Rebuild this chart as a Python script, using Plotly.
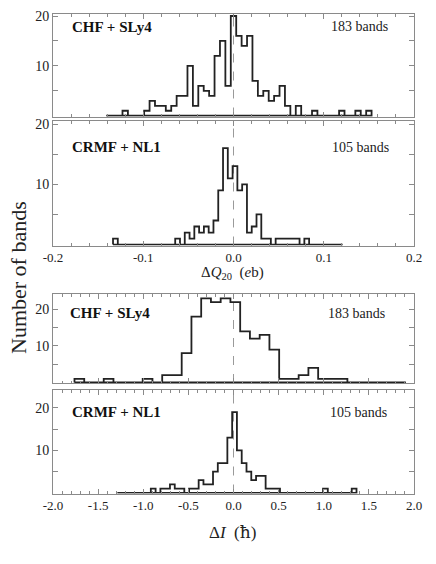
import plotly.graph_objects as go

# ---------------- data (histogram counts) ----------------
# Panel 1: Delta Q20, CHF + SLy4 (183 bands)
dq_chf_lo = -0.141
dq_chf_width = 0.006
dq_chf_counts = [0, 0, 0, 1, 0, 0, 0, 1, 3, 2, 2, 1, 2, 4, 4, 10, 2, 6, 5, 4, 12, 15, 6,
                 20, 16, 14, 16, 7, 4, 5, 3, 4, 6, 2, 0, 2, 0, 0, 1, 0, 0, 0, 0, 1, 0, 0, 1, 0, 1]

# Panel 2: Delta Q20, CRMF + NL1 (105 bands)
dq_rmf_lo = -0.1335
dq_rmf_width = 0.0053
dq_rmf_counts = [1] + [0] * 12 + [1, 0, 2, 1, 3, 2, 3, 2, 4, 9, 16, 11, 13, 9, 10, 2, 3, 5, 1, 1, 0,
                 1, 1, 1, 1, 1, 0, 1] + [0] * 7

# Panel 3: Delta I, CHF + SLy4 (183 bands)
di_chf_lo = -1.762
di_chf_width = 0.108
di_chf_counts = [1, 0, 0, 1, 0, 0, 0, 1, 0, 2, 2, 8, 18, 23, 22, 23, 22, 14, 12, 13, 9, 1, 1, 2, 4,
                 1, 1, 1, 0, 0, 0, 0, 0, 0]

# Panel 4: Delta I, CRMF + NL1 (105 bands)
di_rmf_lo = -1.287
di_rmf_width = 0.053
di_rmf_counts = [0] * 7 + [1, 0, 1, 1, 2, 1, 1, 0, 1, 1, 3, 2, 2, 5, 7, 7, 13, 19, 10, 7, 5, 3, 4, 4,
                 1, 1, 1] + [0] * 9 + [1] + [0] * 5 + [1]

labels_left = ["CHF + SLy4", "CRMF + NL1", "CHF + SLy4", "CRMF + NL1"]
labels_right = ["183 bands", "105 bands", "183 bands", "105 bands"]

dq_ticks = [-0.2, -0.1, 0.0, 0.1, 0.2]
dq_ticktext = ["-0.2", "-0.1", "0.0", "0.1", "0.2"]
di_ticks = [-2.0, -1.5, -1.0, -0.5, 0.0, 0.5, 1.0, 1.5, 2.0]
di_ticktext = ["-2.0", "-1.5", "-1.0", "-0.5", "0.0", "0.5", "1.0", "1.5", "2.0"]
y_ticks = [10, 20]
y_ticktext = ["10", "20"]
y_minor_ticks = [5, 15]

# ---------------- layout geometry ----------------
W, H = 436, 564
FONT = "Liberation Serif"
LINE = "#222222"
AX = "#8a8a8a"


def fx(p):
    return p / W


def fy(p):
    return 1 - p / H


x_dom = [fx(53), fx(414)]
panels = [
    dict(top=14, bot=116.5, yr=[-0.15, 20.4], xr=[-0.2, 0.2], lo=dq_chf_lo, w=dq_chf_width,
         c=dq_chf_counts, xt=dq_ticks, xtt=dq_ticktext, lab=False, minor=0.02),
    dict(top=121, bot=245.5, yr=[-0.15, 20.5], xr=[-0.2, 0.2], lo=dq_rmf_lo, w=dq_rmf_width,
         c=dq_rmf_counts, xt=dq_ticks, xtt=dq_ticktext, lab=True, minor=0.02),
    dict(top=294, bot=383, yr=[-0.15, 24.2], xr=[-2.0, 2.0], lo=di_chf_lo, w=di_chf_width,
         c=di_chf_counts, xt=di_ticks, xtt=di_ticktext, lab=False, minor=0.1),
    dict(top=390, bot=493.5, yr=[-0.15, 24.2], xr=[-2.0, 2.0], lo=di_rmf_lo, w=di_rmf_width,
         c=di_rmf_counts, xt=di_ticks, xtt=di_ticktext, lab=True, minor=0.1),
]

fig = go.Figure()
layout = dict(width=W, height=H, margin=dict(l=0, r=0, t=0, b=0, pad=0, autoexpand=False),
              paper_bgcolor="white", plot_bgcolor="white", showlegend=False,
              font=dict(family=FONT, color="#222222"))
shapes = []
annotations = []

for i, p in enumerate(panels):
    n = i + 1
    xa = "x" if n == 1 else f"x{n}"
    ya = "y" if n == 1 else f"y{n}"
    counts = p["c"]
    edges = [p["lo"] + k * p["w"] for k in range(len(counts) + 1)]
    xs = [edges[0]] + edges[:-1] + [edges[-1], edges[-1], edges[0]]
    ys = [0] + counts + [counts[-1], 0, 0]
    fig.add_trace(go.Scatter(x=xs, y=ys, mode="lines", line=dict(color=LINE, width=1.8, shape="hv"),
                             xaxis=xa, yaxis=ya, hoverinfo="skip"))
    xkey = "xaxis" if n == 1 else f"xaxis{n}"
    ykey = "yaxis" if n == 1 else f"yaxis{n}"
    layout[xkey] = dict(domain=x_dom, anchor=ya, range=p["xr"], showgrid=False, zeroline=False,
                        automargin=False,
                        showline=True, linecolor=AX, linewidth=1, mirror="allticks",
                        ticks="inside", ticklen=5, tickcolor=AX, tickwidth=1,
                        tickvals=p["xt"], ticktext=p["xtt"], showticklabels=p["lab"],
                        tickfont=dict(family=FONT, size=13, color="#222222"),
                        minor=dict(ticks="inside", dtick=p["minor"], ticklen=2.5, tickcolor=AX))
    layout[ykey] = dict(domain=[fy(p["bot"]), fy(p["top"])], anchor=xa, range=p["yr"],
                        automargin=False,
                        showgrid=False, zeroline=False, showline=True, linecolor=AX, linewidth=1,
                        mirror="allticks", ticks="inside", ticklen=5, tickcolor=AX, tickwidth=1,
                        tickvals=y_ticks, ticktext=y_ticktext,
                        tickfont=dict(family=FONT, size=14, color="#222222"),
                        minor=dict(ticks="inside", tickvals=y_minor_ticks, ticklen=5, tickcolor=AX))
    shapes.append(dict(type="line", xref=xa, yref=f"{ya} domain", x0=0, x1=0, y0=0, y1=1,
                       line=dict(color="#9a9a9a", width=1, dash="dash"), layer="below"))

lab_pos = [(70, 27, 390, 26), (70, 147, 391, 147), (68, 313, 387, 313), (70, 412, 389, 412)]
for i, (lx, ly, rx, ry) in enumerate(lab_pos):
    annotations.append(dict(text=f"<b>{labels_left[i]}</b>", x=fx(lx), y=fy(ly), xref="paper", yref="paper",
                            xanchor="left", yanchor="middle", showarrow=False,
                            font=dict(family=FONT, size=15, color="#111111")))
    annotations.append(dict(text=labels_right[i], x=fx(rx), y=fy(ry), xref="paper", yref="paper",
                            xanchor="right", yanchor="middle", showarrow=False,
                            font=dict(family=FONT, size=14, color="#222222")))

annotations.append(dict(text="Δ<i>Q</i><sub>20</sub>  (<i>e</i>b)", x=fx(233), y=fy(273), xref="paper",
                        yref="paper", xanchor="center", yanchor="middle", showarrow=False,
                        font=dict(family=FONT, size=15, color="#222222")))
annotations.append(dict(text="Δ<i>I</i>  (<span style=\"font-family:'DejaVu Serif'\">ħ</span>)",
                        x=fx(233), y=fy(532), xref="paper",
                        yref="paper", xanchor="center", yanchor="middle", showarrow=False,
                        font=dict(family=FONT, size=17, color="#222222")))
annotations.append(dict(text="Number of bands", x=fx(18), y=fy(278), xref="paper", yref="paper",
                        xanchor="center", yanchor="middle", textangle=-90, showarrow=False,
                        font=dict(family=FONT, size=22, color="#222222")))

layout["shapes"] = shapes
layout["annotations"] = annotations
fig.update_layout(**layout)
fig.write_html("out.html", config={"displayModeBar": False},
               post_script="document.body.style.margin='0px';")
